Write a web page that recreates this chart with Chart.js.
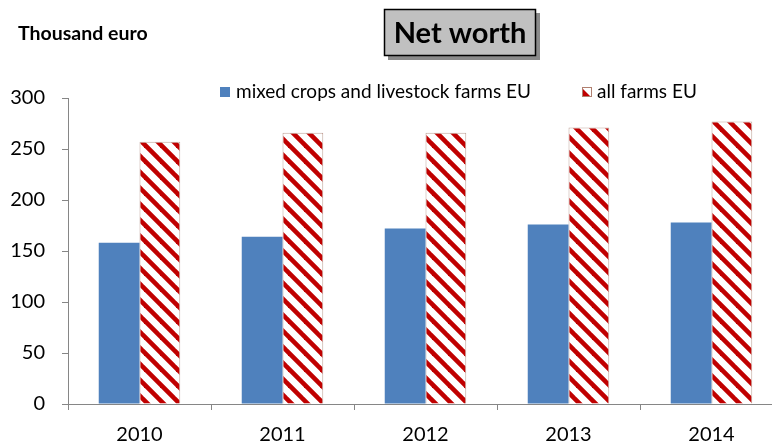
<!DOCTYPE html>
<html>
<head>
<meta charset="utf-8">
<script src="https://cdn.jsdelivr.net/npm/chart.js@4"></script>
<style>
  html, body { margin: 0; padding: 0; background: #fff; overflow: hidden; }
  #wrap { width: 800px; height: 444px; }
</style>
</head>
<body>
<div id="wrap"><canvas id="netWorthChart" width="800" height="444"></canvas></div>
<script>
const years = ['2010', '2011', '2012', '2013', '2014'];
const mixedFarms = [158, 164, 172, 176, 178];
const allFarms = [257, 266, 266, 271, 277];
const seriesNames = ['mixed crops and livestock farms EU', 'all farms EU'];
const yTicks = [0, 50, 100, 150, 200, 250, 300];

const FONT = 'Lato, "Open Sans", sans-serif';

// red diagonal hatch on white
function makeHatch(ctx) {
    const size = 16;
    const c = document.createElement('canvas');
    c.width = size; c.height = size;
    const p = c.getContext('2d');
    p.fillStyle = '#ffffff';
    p.fillRect(0, 0, size, size);
    p.strokeStyle = '#c00000';
    p.lineWidth = 4.6;
    for (let k = -1; k <= 1; k++) {
        p.beginPath();
        p.moveTo(k * size - 2, -2);
        p.lineTo(k * size + size + 2, size + 2);
        p.stroke();
    }
    return ctx.createPattern(c, 'repeat');
}

const canvas = document.getElementById('netWorthChart');
const ctx = canvas.getContext('2d');
const hatch = makeHatch(ctx);

// title box, unit label and legend
const decorations = {
    id: 'decorations',
    afterDraw(chart) {
        const c = chart.ctx;
        c.save();
        // unit label
        c.fillStyle = '#000';
        c.font = 'bold 19.5px ' + FONT;
        c.textBaseline = 'alphabetic';
        c.textAlign = 'left';
        c.fillText('Thousand euro', 18, 40);

        // title box with shadow
        c.fillStyle = '#8a8a8a';
        c.fillRect(388, 13, 152, 47);
        c.fillStyle = '#c0c0c0';
        c.fillRect(384, 9, 152, 47);
        c.strokeStyle = '#000';
        c.lineWidth = 1.5;
        c.strokeRect(384.5, 9.5, 151, 46);
        c.fillStyle = '#000';
        c.font = 'bold 29px ' + FONT;
        c.textAlign = 'center';
        c.textBaseline = 'middle';
        c.fillText('Net worth', 460, 34);

        // legend
        c.font = '19px ' + FONT;
        c.textAlign = 'left';
        c.fillStyle = '#4f81bd';
        c.fillRect(220, 87, 10, 10);
        c.fillStyle = '#000';
        c.fillText(seriesNames[0], 236, 92);

        // hatched legend swatch: white with red corner
        c.fillStyle = '#fff';
        c.fillRect(582, 87, 10, 10);
        c.fillStyle = '#c00000';
        c.beginPath();
        c.moveTo(582, 88);
        c.lineTo(591, 97);
        c.lineTo(582, 97);
        c.closePath();
        c.fill();
        c.strokeStyle = '#b08070';
        c.lineWidth = 1;
        c.strokeRect(582.5, 87.5, 9, 9);
        c.fillStyle = '#000';
        c.fillText(seriesNames[1], 597, 92);
        c.restore();
    }
};

new Chart(ctx, {
    type: 'bar',
    data: {
        labels: years,
        datasets: [
            {
                label: seriesNames[0],
                data: mixedFarms,
                backgroundColor: '#4f81bd',
                borderWidth: 0
            },
            {
                label: seriesNames[1],
                data: allFarms,
                backgroundColor: hatch,
                borderColor: '#c0a59a',
                borderWidth: 1
            }
        ]
    },
    options: {
        responsive: false,
        animation: false,
        events: [],
        layout: { padding: { top: 98, left: 0, right: 17, bottom: 0 } },
        datasets: {
            bar: { categoryPercentage: 0.57, barPercentage: 1 }
        },
        plugins: {
            legend: { display: false },
            tooltip: { enabled: false },
            title: { display: false }
        },
        scales: {
            x: {
                offset: true,
                grid: {
                    offset: true,
                    drawOnChartArea: false,
                    drawTicks: true,
                    tickLength: 6,
                    color: '#868686'
                },
                border: { color: '#868686', width: 1 },
                ticks: {
                    color: '#000',
                    font: { family: FONT, size: 20 },
                    padding: 13
                },
                afterFit(axis) { axis.height = 40; }
            },
            y: {
                min: 0,
                max: 300,
                afterBuildTicks(axis) {
                    axis.ticks = yTicks.map(v => ({ value: v }));
                },
                grid: {
                    drawOnChartArea: false,
                    drawTicks: true,
                    tickLength: 6,
                    color: '#868686'
                },
                border: { color: '#868686', width: 1 },
                ticks: {
                    color: '#000',
                    font: { family: FONT, size: 20 },
                    padding: 17
                },
                afterFit(axis) { axis.width = 68; }
            }
        }
    },
    plugins: [decorations]
});
</script>
</body>
</html>
